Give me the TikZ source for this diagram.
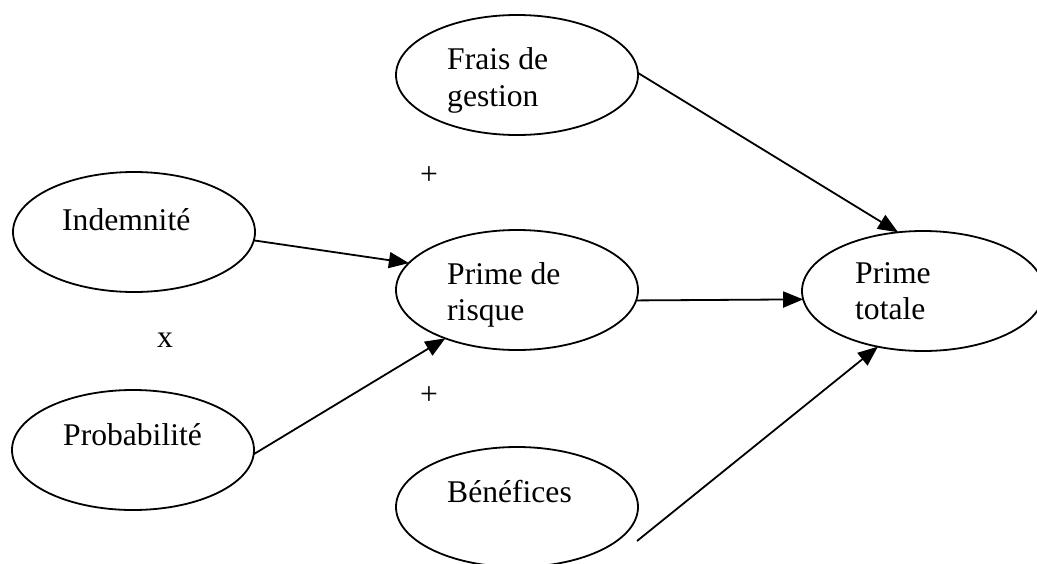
\documentclass[tikz,border=0pt]{standalone}
\usepackage{fontspec}
\setmainfont{Liberation Serif}
\usetikzlibrary{shapes.geometric,arrows.meta}
\begin{document}
\begin{tikzpicture}[x=1pt,y=-1pt,
  oval/.style={draw=black,line width=1.8pt,ellipse,minimum width=242pt,minimum height=120pt,inner sep=0pt,outer sep=0pt},
  lbl/.style={anchor=base west,inner sep=0pt,align=left,font=\fontsize{31.6}{36.5}\selectfont},
  sym/.style={inner sep=0pt,font=\fontsize{31.6}{36.5}\selectfont},
  conn/.style={line width=1.8pt,-{Triangle[length=20pt,width=16pt]}}]
\useasboundingbox (0,0) rectangle (1037,563);
\fill[white] (0,0) rectangle (1037,563);
% ellipses
\node[oval] (frais) at (517,75) {};
\node[oval] (indem) at (134,232) {};
\node[oval] (risque) at (517,290) {};
\node[oval] (totale) at (923,291) {};
\node[oval] (proba) at (133,450) {};
\node[oval] (benef) at (517,507) {};
% texts (base anchor = baseline of last line)
\node[lbl] (tfrais) at (447,106) {Frais de\\gestion};
\node[lbl] (tindem) at (62,230) {Indemnité};
\node[lbl] (trisque) at (447,320.5) {Prime de\\risque};
\node[lbl] (ttotale) at (855,319.5) {Prime\\totale};
\node[lbl] (tproba) at (63,445) {Probabilité};
\node[lbl] (tbenef) at (447,502) {Bénéfices};
% operators
\node[sym] (plus1) at (429,176) {+};
\node[sym] (times) at (165,340) {x};
\node[sym] (plus2) at (429,396) {+};
% connectors
\coordinate (bstart) at (637,541);
\draw[conn] (frais.1) -- (totale.113);
\draw[conn] (indem.-4) -- (risque.166);
\draw[conn] (proba.-2) -- (risque.214);
\draw[conn] (risque.-5) -- (totale.184);
\draw[conn] (bstart) -- (totale.231);
\end{tikzpicture}
\end{document}
